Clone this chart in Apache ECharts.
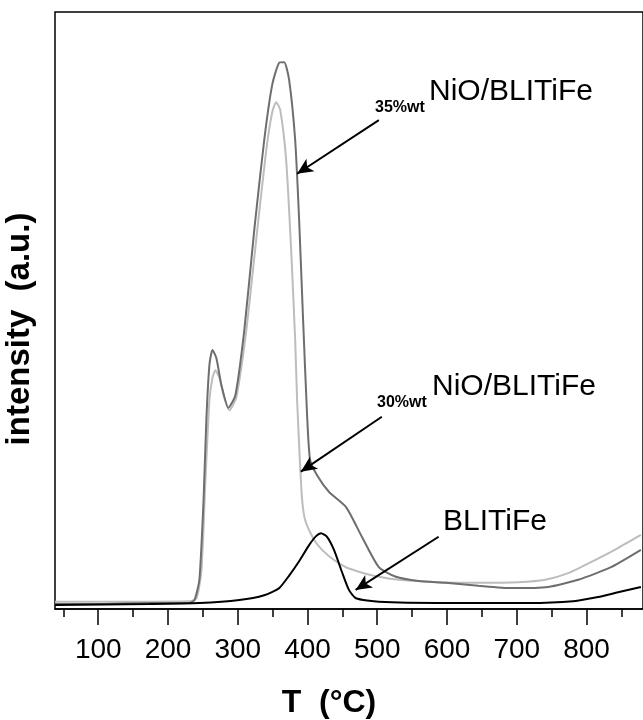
<!DOCTYPE html>
<html>
<head>
<meta charset="utf-8">
<script src="https://cdn.jsdelivr.net/npm/echarts@6/dist/echarts.min.js"></script>
<style>html,body{margin:0;padding:0;background:#fff;}#chart{width:643px;height:720px;}</style>
</head>
<body>
<div id="chart"></div>
<script>
// ---- data ----
const temps35 = [38,100,175,231,238,245,251,255,259.4,263.7,269.4,276.6,286.6,296.6,309.4,323.7,338,349.4,359.4,366.6,373.7,382.3,388,393.7,399.4,403.7,413.7,430.9,455.1,478,502.3,526.6,559.4,598,645.1,692.3,745.1,788,835.1,878];
const vals35  = [0.84,0.84,1.0,1.0,1.5,4.9,18.3,31.7,40.9,43.4,42.0,37.5,33.7,35.8,46.7,63.5,78.6,87.8,91.5,91.6,88.6,78.6,65.2,48.4,32.5,25.0,22.4,19.6,17.1,12.1,7.0,5.4,4.7,4.4,3.9,3.5,3.7,4.9,7.0,9.9];

const temps30 = [38,231,240.9,248,253.7,259.4,263.7,268,273.7,280.9,288,298,312.3,328,340.9,349.4,355.1,360.9,369.4,376.6,382.3,385.1,389.4,392.3,396.6,409.4,420.9,438,455.1,480.9,502.3,530.9,588,645.1,702.3,740.9,773.7,812.3,845.1,878];
const vals30  = [1.2,1.3,1.8,6.5,21.6,35.0,38.7,40.0,38.7,35.3,33.3,35.5,46.7,63.5,76.9,83.2,84.9,83.6,75.2,60.1,45.1,35.0,24.1,18.3,14.9,11.6,9.9,8.2,7.0,6.0,5.4,4.9,4.5,4.4,4.5,4.9,6.0,8.2,10.2,12.4];

const tempsBL = [38,173.7,245,302.3,338,359.4,373.7,388,402.3,412.3,419.4,428,438,449.4,459.4,469.4,502.3,602.3,716.6,780.9,816.6,845.1,878];
const valsBL  = [0.67,0.84,1.0,1.5,2.3,3.5,5.6,8.0,10.7,12.2,12.7,12.1,9.9,6.2,3.2,1.8,1.2,1.0,1.0,1.3,2.0,2.8,3.7];

const majorTicks = [100,200,300,400,500,600,700,800];
const minorTicks = [50,150,250,350,450,550,650,750,850];

const seriesNames = ['35%wt NiO/BLITiFe','30%wt NiO/BLITiFe','BLITiFe'];

function pairs(xs, ys){ return xs.map((x,i)=>[x, ys[i]]); }

const FONT = '"Liberation Sans", Arial, sans-serif';
const chart = echarts.init(document.getElementById('chart'), null, {renderer:'canvas'});

const arrowStyle = {color:'#000', width:2, type:'solid'};
function arrow(from, to){
  return {
    silent:true, symbol:['none','arrow'], symbolSize:[11,16],
    lineStyle:arrowStyle, label:{show:false}, emphasis:{disabled:true},
    data:[[{coord:from},{coord:to}]]
  };
}

chart.setOption({
  animation:false,
  backgroundColor:'#fff',
  grid:{left:55, top:12, width:590, height:597, show:true, borderColor:'#000', borderWidth:1.5, containLabel:false},
  xAxis:[
    {type:'value', min:38, max:881, position:'bottom', offset:0,
     axisLine:{show:true, lineStyle:{color:'#000', width:1.5}},
     axisTick:{show:true, customValues:majorTicks, length:16, inside:false, lineStyle:{color:'#000', width:1.5}},
     axisLabel:{show:true, customValues:majorTicks, fontSize:28, color:'#000', fontFamily:FONT, margin:27},
     splitLine:{show:false}},
    {type:'value', min:38, max:881, position:'bottom', offset:0,
     axisLine:{show:false},
     axisTick:{show:true, customValues:minorTicks, length:8, inside:false, lineStyle:{color:'#000', width:1.5}},
     axisLabel:{show:false},
     splitLine:{show:false}}
  ],
  yAxis:{type:'value', min:0, max:100, axisLine:{show:false}, axisTick:{show:false}, axisLabel:{show:false}, splitLine:{show:false}},
  series:[
    {name:seriesNames[1], type:'line', data:pairs(temps30, vals30), showSymbol:false, smooth:0.2,
     lineStyle:{color:'#bdbdbd', width:2}, z:2,
     markLine:arrow([506.6,32.2],[390.4,23.0])},
    {name:seriesNames[0], type:'line', data:pairs(temps35, vals35), showSymbol:false, smooth:0.2,
     lineStyle:{color:'#6e6e6e', width:2}, z:3,
     markLine:arrow([502.3,81.9],[385.1,72.9])},
    {name:seriesNames[2], type:'line', data:pairs(tempsBL, valsBL), showSymbol:false, smooth:0.2,
     lineStyle:{color:'#000', width:2}, z:4,
     markLine:arrow([588,12.1],[469,3.2])}
  ],
  graphic:[
    {type:'text', x:20, y:329, rotation:Math.PI/2,
     style:{text:'intensity  (a.u.)', font:'bold 33px ' + FONT, fill:'#000', align:'center', verticalAlign:'middle'}},
    {type:'text', x:329, y:703,
     style:{text:'T  (°C)', font:'bold 32px ' + FONT, fill:'#000', align:'center', verticalAlign:'middle'}},
    {type:'text', x:375, y:108, style:{text:'35%wt', font:'bold 16px ' + FONT, fill:'#000', align:'left', verticalAlign:'middle'}},
    {type:'text', x:429, y:92, style:{text:'NiO/BLITiFe', font:'30px ' + FONT, fill:'#000', align:'left', verticalAlign:'middle'}},
    {type:'text', x:377, y:403, style:{text:'30%wt', font:'bold 16px ' + FONT, fill:'#000', align:'left', verticalAlign:'middle'}},
    {type:'text', x:432, y:387, style:{text:'NiO/BLITiFe', font:'30px ' + FONT, fill:'#000', align:'left', verticalAlign:'middle'}},
    {type:'text', x:443, y:522, style:{text:'BLITiFe', font:'30px ' + FONT, fill:'#000', align:'left', verticalAlign:'middle'}}
  ]
});
</script>
</body>
</html>
